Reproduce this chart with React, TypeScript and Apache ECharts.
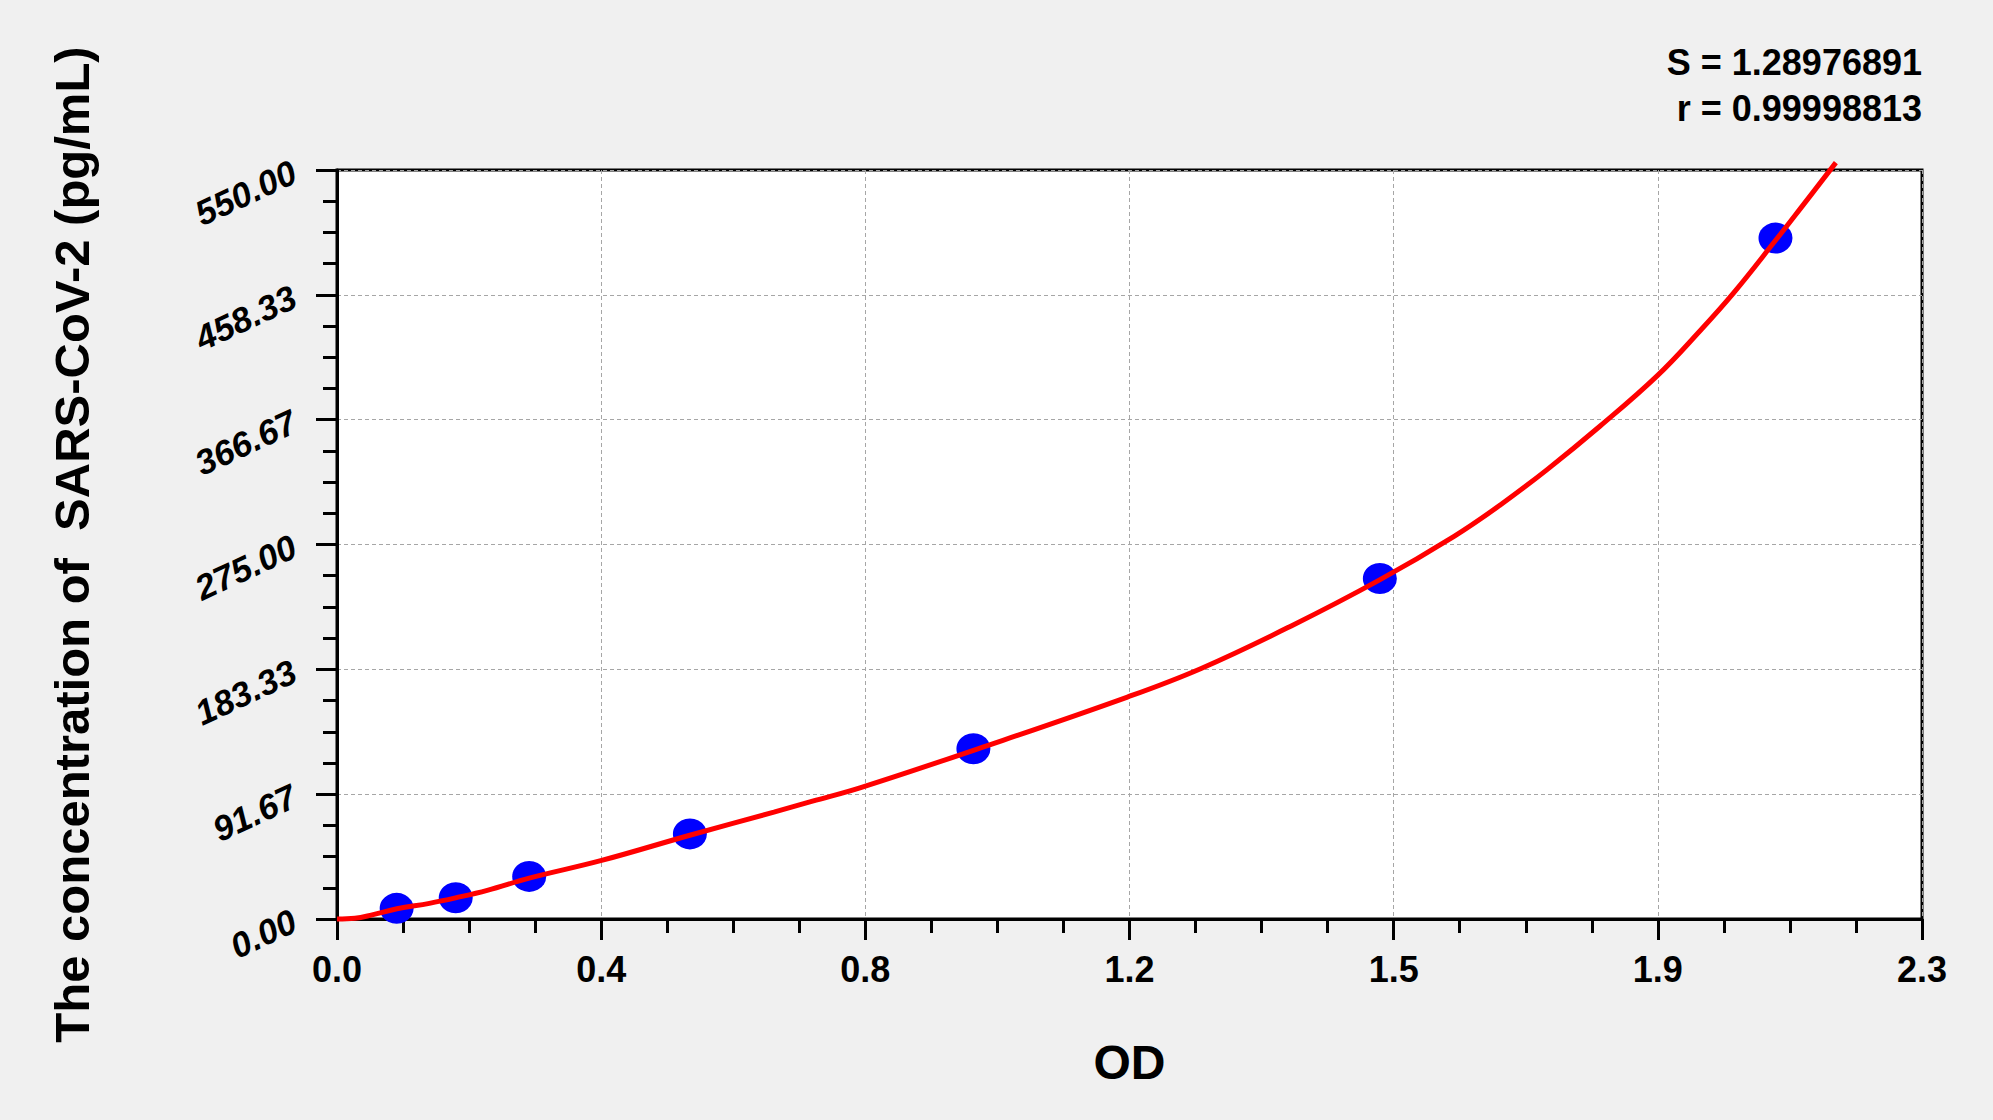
import React, { useEffect, useRef } from "react";
import * as echarts from "echarts";

// Standard points (OD, concentration pg/mL)
const standardOD = [0.0866, 0.1723, 0.2789, 0.5121, 0.9235, 1.5133, 2.0874];
const standardConc = [7.81, 15.63, 31.25, 62.5, 125, 250, 500];

// Fitted curve
const curveOD = [0, 0.026, 0.051, 0.087, 0.134, 0.172, 0.218, 0.279, 0.384, 0.512, 0.634, 0.69, 0.76, 0.93, 1.147, 1.254, 1.384, 1.513, 1.621, 1.688, 1.756, 1.833, 1.916, 1.978, 2.027, 2.087, 2.124, 2.175];
const curveConc = [0, 0.5, 3.0, 7.5, 11.5, 15.5, 21.0, 30.0, 43.0, 61.5, 78.5, 86.5, 96.5, 125.0, 163.0, 184.0, 215.0, 249.0, 281.0, 304.0, 330.0, 362.0, 399.0, 432.0, 460.0, 498.0, 522.0, 555.4];

const xTickLabels = ["0.0", "0.4", "0.8", "1.2", "1.5", "1.9", "2.3"];
const yTickLabels = ["0.00", "91.67", "183.33", "275.00", "366.67", "458.33", "550.00"];

const xMax = 2.3;
const yMax = 550;
const xInterval = xMax / 6;
const yInterval = yMax / 6;

const statLines = ["S = 1.28976891", "r = 0.99998813"];
const xName = "OD";
const yName = "The concentration of  SARS-CoV-2 (pg/mL)";

const FONT = "'Liberation Sans', Arial, Helvetica, sans-serif";

export default function App() {
  const ref = useRef<HTMLDivElement>(null);

  useEffect(() => {
    if (!ref.current) return;
    const chart = echarts.init(ref.current, undefined, { renderer: "svg" });
    const tickLine = { color: "#000", width: 3 };
    const splitLine = { show: true, lineStyle: { color: "#a6a6a6", type: [4, 3], width: 1 } };

    chart.setOption({
      animation: false,
      backgroundColor: "#f0f0f0",
      textStyle: { fontFamily: FONT },
      grid: {
        left: 337,
        right: 71,
        top: 170,
        bottom: 201,
        show: true,
        backgroundColor: "#ffffff",
        borderColor: "#000",
        borderWidth: 3,
      },
      xAxis: {
        type: "value",
        min: 0,
        max: xMax,
        interval: xInterval,
        name: xName,
        nameLocation: "middle",
        nameGap: 119,
        nameTextStyle: { fontSize: 48, fontWeight: "bold", color: "#000", fontFamily: FONT },
        axisLine: { show: true, onZero: false, lineStyle: tickLine },
        axisTick: { show: true, length: 21, lineStyle: tickLine },
        minorTick: { show: true, splitNumber: 4, length: 14, lineStyle: tickLine },
        axisLabel: {
          margin: 32,
          fontSize: 36,
          fontWeight: "bold",
          color: "#000",
          fontFamily: FONT,
          formatter: (v: number) => xTickLabels[Math.round(v / xInterval)] ?? "",
        },
        splitLine,
      },
      yAxis: {
        type: "value",
        min: 0,
        max: yMax,
        interval: yInterval,
        name: yName,
        nameLocation: "middle",
        nameGap: 241,
        nameRotate: 90,
        nameTextStyle: { fontSize: 49, fontWeight: "bold", color: "#000", fontFamily: FONT },
        axisLine: { show: true, onZero: false, lineStyle: tickLine },
        axisTick: { show: true, length: 21, lineStyle: tickLine },
        minorTick: { show: true, splitNumber: 4, length: 14, lineStyle: tickLine },
        axisLabel: {
          margin: 43,
          rotate: 25,
          fontSize: 35,
          fontWeight: "bold",
          fontStyle: "italic",
          color: "#000",
          fontFamily: FONT,
          formatter: (v: number) => yTickLabels[Math.round(v / yInterval)] ?? "",
        },
        splitLine,
      },
      graphic: [
        {
          type: "text",
          right: 71,
          top: 44,
          style: { text: statLines[0], fill: "#000", font: `bold 36px ${FONT}`, textAlign: "right" },
        },
        {
          type: "text",
          right: 71,
          top: 90,
          style: { text: statLines[1], fill: "#000", font: `bold 36px ${FONT}`, textAlign: "right" },
        },
      ],
      series: [
        {
          type: "scatter",
          data: standardOD.map((x, i) => [x, standardConc[i]]),
          symbol: "circle",
          symbolSize: [34, 31],
          itemStyle: { color: "#0000ff", opacity: 1 },
          z: 2,
        },
        {
          type: "line",
          data: curveOD.map((x, i) => [x, curveConc[i]]),
          smooth: 0.4,
          showSymbol: false,
          symbol: "none",
          clip: false,
          lineStyle: { color: "#ff0000", width: 5 },
          z: 3,
        },
      ],
    });
    return () => chart.dispose();
  }, []);

  return (
    <div
      ref={ref}
      style={{ position: "absolute", left: 0, top: 0, width: 1993, height: 1120 }}
    />
  );
}
